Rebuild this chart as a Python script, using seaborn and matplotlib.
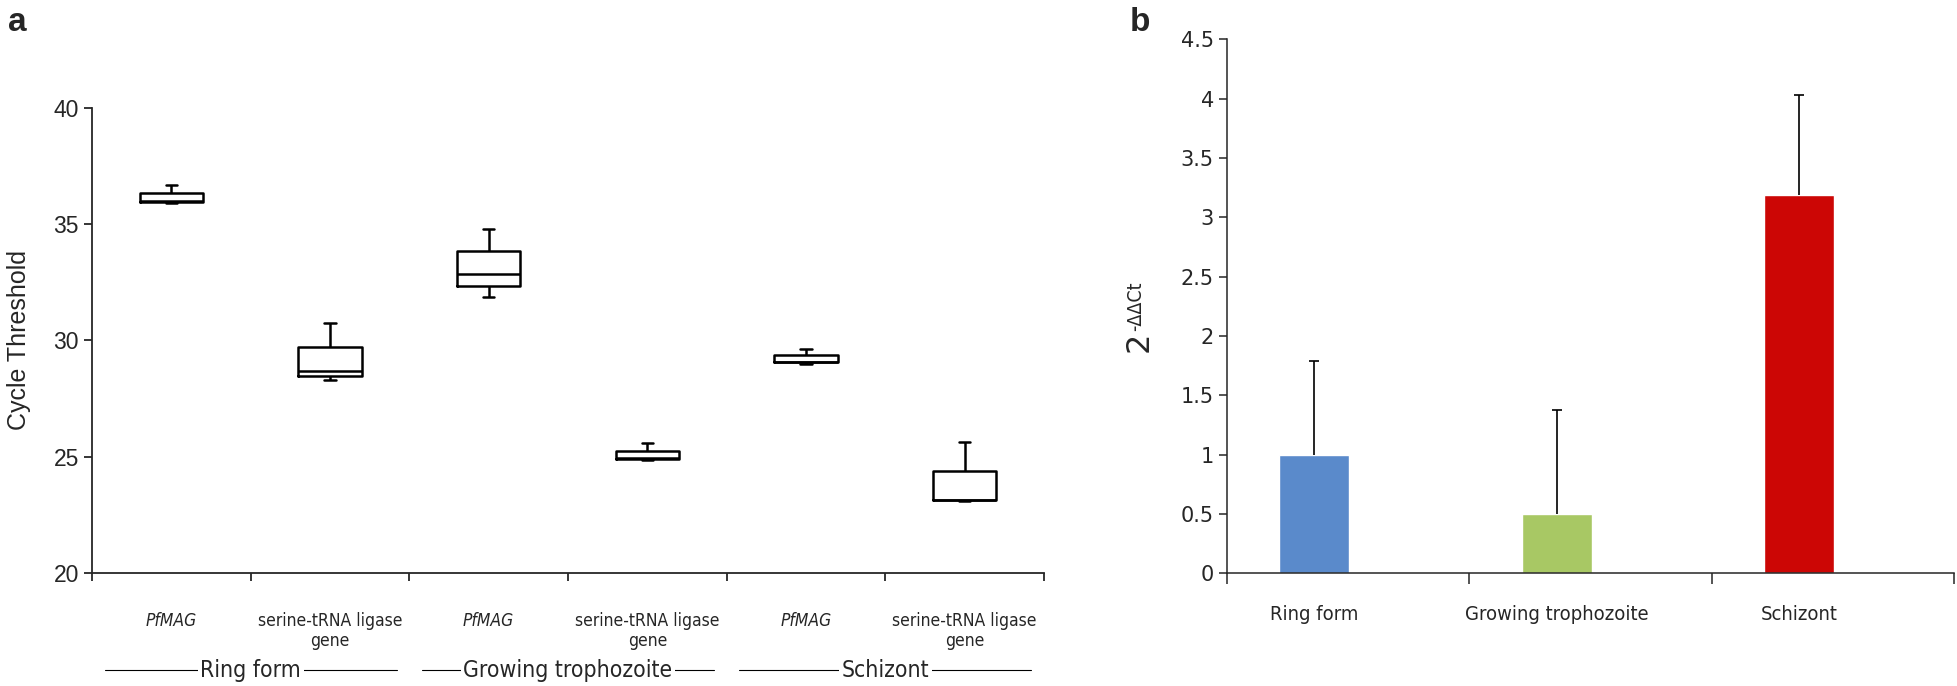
import numpy as np
import pandas as pd
import matplotlib.pyplot as plt
import matplotlib.transforms as mtransforms
import seaborn as sns

# =========================
# Data
# =========================

# Panel a: Ct values per group (min, q1, median, q3, max)
stages = ["Ring form", "Growing trophozoite", "Schizont"]
genes = ["PfMAG", "serine-tRNA ligase\ngene"]
ring_pfmag = [35.90, 35.96, 35.98, 36.35, 36.68]
ring_serine = [28.28, 28.48, 28.68, 29.71, 30.73]
troph_pfmag = [31.86, 32.35, 32.85, 33.84, 34.77]
troph_serine = [24.85, 24.90, 24.93, 25.24, 25.57]
schiz_pfmag = [29.00, 29.05, 29.08, 29.35, 29.61]
schiz_serine = [23.10, 23.13, 23.15, 24.38, 25.61]

# Panel b: relative expression 2^-ddCt with upper SD
fold_change = [1.0, 0.5, 3.19]
fold_sd = [0.79, 0.88, 0.84]
bar_colors = ["#5A8ACB", "#A8C864", "#CC0605"]

# long table for the boxplot
groups = [ring_pfmag, ring_serine, troph_pfmag, troph_serine, schiz_pfmag, schiz_serine]
keys = [s + " | " + g for s in stages for g in genes]
rows = []
for k, vals in zip(keys, groups):
    for v in vals:
        rows.append({"group": k, "ct": v})
df_ct = pd.DataFrame(rows)

df_fc = pd.DataFrame({"stage": stages, "fc": fold_change})

# =========================
# Figure
# =========================
sns.set_style("ticks")
plt.rcParams['font.family'] = ['DejaVu Sans']

fig = plt.figure(figsize=(19.58, 6.86), dpi=100)
axa = fig.add_axes([0.047, 0.165, 0.4862, 0.678])
axb = fig.add_axes([0.6267, 0.164, 0.3713, 0.7787])

# ---- panel a ----
sns.boxplot(data=df_ct, x="group", y="ct", order=keys, fill=False, color="black",
            width=0.4, whis=1.5, linewidth=1.8, capwidths=0.07, showfliers=False, ax=axa)
axa.set_xlim(-0.5, 5.5)
axa.set_ylim(20, 40)
axa.set_yticks([20, 25, 30, 35, 40])
axa.set_yticklabels(["20", "25", "30", "35", "40"], fontsize=16.5, family="Liberation Sans")
axa.set_xticks(range(len(keys)))
axa.set_xticklabels([g for s in stages for g in genes], fontsize=12.5, fontstretch="condensed")
for lab in axa.get_xticklabels():
    if lab.get_text() == "PfMAG":
        lab.set_fontstyle("italic")
axa.set_xticks(np.arange(-0.5, 5.6, 1), minor=True)
axa.tick_params(axis="x", which="major", length=0, pad=28)
axa.tick_params(axis="x", which="minor", length=6, width=1.3, direction="out")
axa.tick_params(axis="y", length=6, width=1.3, direction="out")
axa.set_xlabel("")
axa.set_ylabel("Cycle Threshold", fontsize=18, family="Liberation Sans", labelpad=16)
sns.despine(ax=axa)
for sp in ["left", "bottom"]:
    axa.spines[sp].set_linewidth(1.3)

# stage labels with lines under the gene labels
trans = mtransforms.blended_transform_factory(axa.transData, axa.transAxes)
for i, s in enumerate(stages):
    axa.plot([2 * i - 0.42, 2 * i + 1.42], [-0.21, -0.21], transform=trans,
             color="black", lw=0.8, clip_on=False)
    axa.text(2 * i + 0.5, -0.21, s, transform=trans, ha="center", va="center",
             fontsize=16.5, fontstretch="condensed", zorder=5,
             bbox=dict(fc="white", ec="none", pad=2))
axa.set_xlim(-0.5, 5.5)
axa.set_ylim(20, 40)

# ---- panel b ----
sns.barplot(data=df_fc, x="stage", y="fc", hue="stage", palette=bar_colors,
            legend=False, width=0.29, saturation=1, ax=axb)
centers = [p.get_x() + p.get_width() / 2 for p in axb.patches]
eb = axb.errorbar(centers, fold_change, yerr=[[0] * len(fold_sd), fold_sd], fmt="none",
                  ecolor="black", elinewidth=1.2, capsize=3.3, capthick=1.2)
eb[1][0].remove()  # only the upper cap
axb.set_xlim(-0.36, 2.64)
axb.set_ylim(0, 4.5)
yt = np.arange(0, 4.51, 0.5)
axb.set_yticks(yt)
axb.set_yticklabels([f"{v:g}" for v in yt], fontsize=15)
axb.set_xticks(np.arange(-0.36, 2.65, 1), minor=True)
axb.set_xticklabels(stages, fontsize=14.5, fontstretch="condensed")
axb.tick_params(axis="x", which="major", length=0, pad=23)
axb.tick_params(axis="x", which="minor", length=8, width=1.1, direction="out")
axb.tick_params(axis="y", length=6, width=1.1, direction="out")
axb.set_xlabel("")
axb.set_ylabel("2", fontsize=23)
axb.yaxis.set_label_coords(-0.099, 0.434)
# superscript of the y label, attached to the "2"
axb.annotate("-ΔΔCt", xy=(0.05, 1.0), xycoords=axb.yaxis.label, rotation=90,
             ha="left", va="bottom", fontsize=14, fontstretch="condensed")
sns.despine(ax=axb)
for sp in ["left", "bottom"]:
    axb.spines[sp].set_linewidth(1.1)

# panel letters
fig.text(0.004, 0.99, "a", fontsize=24, fontweight="bold", va="top", family="Liberation Sans")
fig.text(0.577, 0.99, "b", fontsize=24, fontweight="bold", va="top", family="Liberation Sans")

fig.savefig("out.png", dpi=100)
